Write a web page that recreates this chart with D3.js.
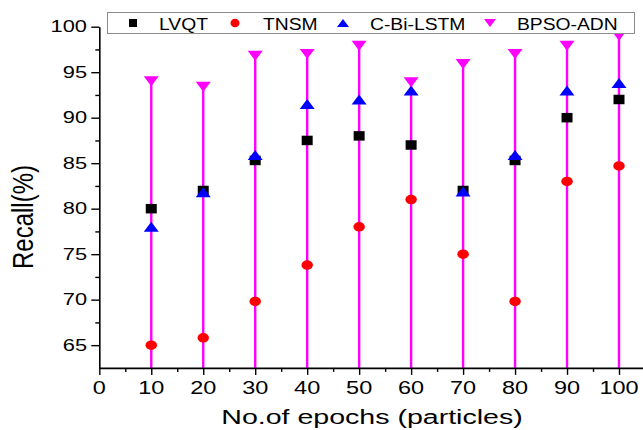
<!DOCTYPE html>
<html><head><meta charset="utf-8">
<script src="https://cdn.jsdelivr.net/npm/d3@7"></script>
<style>body{margin:0;background:#fff} svg{display:block} text{font-family:"Liberation Sans",Arial,sans-serif;fill:#000}</style>
</head><body><svg id="c" width="643" height="430"></svg>
<script>
const epochs = [10, 20, 30, 40, 50, 60, 70, 80, 90, 100];
const lvqt = [80, 82, 85.3, 87.5, 88, 87, 82, 85.3, 90, 92];
const tnsm = [65, 65.8, 69.8, 73.8, 78, 81, 75, 69.8, 83, 84.7];
const cbilstm = [78, 81.8, 85.9, 91.5, 92, 93, 81.9, 85.9, 93, 93.8];
const bpsoadn = [94, 93.4, 96.8, 97, 97.9, 93.9, 95.9, 97, 97.9, 99];
const seriesNames = ["LVQT", "TNSM", "C-Bi-LSTM", "BPSO-ADN"];
const xTicks = [0, 10, 20, 30, 40, 50, 60, 70, 80, 90, 100];
const xMinor = [5, 15, 25, 35, 45, 55, 65, 75, 85, 95];
const yTicks = [65, 70, 75, 80, 85, 90, 95, 100];
const yMinor = [67.5, 72.5, 77.5, 82.5, 87.5, 92.5, 97.5];
const xTitle = "No.of epochs (particles)";
const yTitle = "Recall(%)";

const svg = d3.select("#c");
const x = d3.scaleLinear().domain([0, 105]).range([99.3, 99.3 + 105 * 5.197]);
const y = d3.scaleLinear().domain([62.5, 100]).range([367.9, 26.7]);
const x0 = x(0), yb = y(62.5);

// marker shape paths (w,h)
function shape(type, w, h) {
  const a = w / 2, b = h / 2;
  if (type === "square") return `M${-a},${-b}H${a}V${b}H${-a}Z`;
  if (type === "circle") return `M${-a},0A${a},${b} 0 1,0 ${a},0A${a},${b} 0 1,0 ${-a},0Z`;
  if (type === "up") return `M0,${-b}L${a},${b}L${-a},${b}Z`;
  return `M${-a},${-b}L${a},${-b}L0,${b}Z`;
}
const series = [
  {name: seriesNames[0], vals: lvqt, type: "square", color: "#000000", w: 11, h: 9.5},
  {name: seriesNames[1], vals: tnsm, type: "circle", color: "#ff0000", w: 11.5, h: 9.5},
  {name: seriesNames[2], vals: cbilstm, type: "up", color: "#0000ff", w: 15, h: 10},
  {name: seriesNames[3], vals: bpsoadn, type: "down", color: "#ff00ff", w: 15, h: 10}
];

// drop lines for BPSO-ADN
svg.append("g").selectAll("line").data(epochs).join("line")
  .attr("x1", d => x(d)).attr("x2", d => x(d))
  .attr("y1", (d, i) => y(bpsoadn[i])).attr("y2", yb)
  .attr("stroke", "#ff00ff").attr("stroke-width", 2.4);

// axes
const gx = svg.append("g").attr("transform", `translate(0,${yb})`);
gx.call(d3.axisBottom(x).tickValues(xTicks).tickSize(7).tickSizeOuter(0).tickFormat(""));
gx.call(g => g.append("g").call(d3.axisBottom(x).tickValues(xMinor).tickSize(4).tickSizeOuter(0).tickFormat("")).select(".domain").remove());
const gy = svg.append("g").attr("transform", `translate(${x0},0)`);
gy.call(d3.axisLeft(y).tickValues(yTicks).tickSize(8).tickSizeOuter(0).tickFormat(""));
gy.call(g => g.append("g").call(d3.axisLeft(y).tickValues(yMinor).tickSize(4).tickSizeOuter(0).tickFormat("")).select(".domain").remove());
svg.selectAll(".domain").attr("stroke", "#000").attr("stroke-width", 1.6);
svg.selectAll(".tick line").attr("stroke", "#000").attr("stroke-width", 1.4);

// tick labels
svg.append("g").selectAll("text").data(xTicks).join("text")
  .attr("transform", d => `translate(${x(d)},393.5) scale(1.27,1)`)
  .attr("text-anchor", "middle").attr("font-size", 18.5).text(d => d);
svg.append("g").selectAll("text").data(yTicks).join("text")
  .attr("transform", d => `translate(87,${y(d) + 5.7}) scale(1.38,1)`)
  .attr("text-anchor", "end").attr("font-size", 15.8).text(d => d);

// titles
svg.append("text").attr("transform", "translate(372,424) scale(1.36,1)")
  .attr("text-anchor", "middle").attr("font-size", 21).text(xTitle);
svg.append("text").attr("transform", "translate(33,217) scale(1.22,1) rotate(-90)")
  .attr("text-anchor", "middle").attr("font-size", 24).text(yTitle);

// markers
series.forEach(s => {
  svg.append("g").selectAll("path").data(epochs).join("path")
    .attr("transform", (d, i) => `translate(${x(d)},${y(s.vals[i])})`)
    .attr("d", shape(s.type, s.w, s.h)).attr("fill", s.color);
});

// legend
const lg = svg.append("g");
lg.append("rect").attr("x", 107.5).attr("y", 12.5).attr("width", 527).attr("height", 21)
  .attr("fill", "#fff").attr("stroke", "#8c8c8c").attr("stroke-width", 1);
const legMarkX = [133, 235, 343, 490], legTextX = [159, 263, 370, 517];
const legSize = [[8, 8], [9, 8.5], [12, 8], [12, 8]];
series.forEach((s, i) => {
  lg.append("path").attr("transform", `translate(${legMarkX[i]},23)`)
    .attr("d", shape(s.type, legSize[i][0], legSize[i][1])).attr("fill", s.color);
  lg.append("text").attr("transform", `translate(${legTextX[i]},29.5) scale(1.17,1)`)
    .attr("font-size", 16.5).text(s.name);
});
</script></body></html>
